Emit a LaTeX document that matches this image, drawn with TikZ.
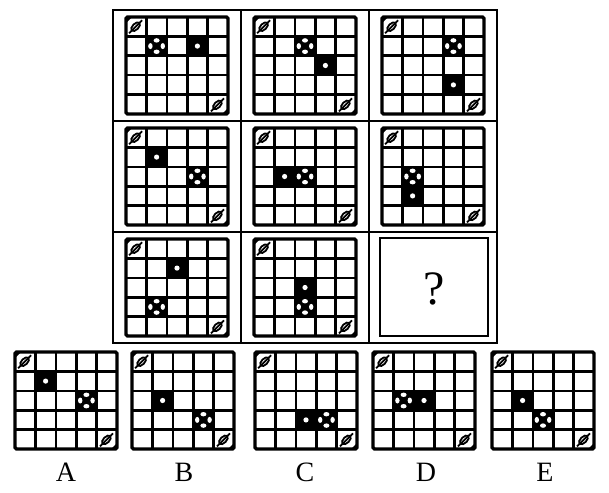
\documentclass[tikz,border=0pt]{standalone}
\usepackage{fontspec}
\setmainfont{Liberation Serif}
\newcommand\cellW{20.4}
\newcommand\cellH{19.4}
\tikzset{
  gridline/.style={line width=2.6pt},
  gridborder/.style={line width=3.4pt, rounded corners=1.5pt},
  framebox/.style={line width=2.4pt},
  markline/.style={line width=1.8pt},
  lbl/.style={font=\fontsize{28}{32}\selectfont, inner sep=0pt},
}
% corner mark centred at (#1,#2)
\newcommand\cornermark[2]{%
  \begin{scope}[shift={(#1,#2)}]
    \draw[markline, fill=white, rotate=45] (0,0) ellipse [x radius=5.5pt, y radius=3pt];
    \draw[markline] (-6.5,6.5) -- (6.5,-6.5);
  \end{scope}%
}
% grid at (#1,#2), black cell row #3 col #4, cross cell row #5 col #6
\newcommand\pgrid[6]{%
  \begin{scope}[shift={(#1,#2)}]
    % black cell with white dot
    \fill ({(#4-1)*\cellW},{(#3-1)*\cellH}) rectangle +(\cellW,\cellH);
    \fill[white] ({(#4-0.5)*\cellW},{(#3-0.5)*\cellH}) circle[radius=2.6pt];
    % cross cell
    \fill ({(#6-1)*\cellW},{(#5-1)*\cellH}) rectangle +(\cellW,\cellH);
    \fill[white] ({(#6-0.5)*\cellW},{(#5-1)*\cellH+4}) ellipse[x radius=3pt, y radius=2.2pt];
    \fill[white] ({(#6-0.5)*\cellW},{#5*\cellH-4}) ellipse[x radius=3pt, y radius=2.2pt];
    \fill[white] ({(#6-1)*\cellW+4},{(#5-0.5)*\cellH}) ellipse[x radius=2.2pt, y radius=3pt];
    \fill[white] ({#6*\cellW-4},{(#5-0.5)*\cellH}) ellipse[x radius=2.2pt, y radius=3pt];
    % grid lines
    \foreach \i in {1,2,3,4} {
      \draw[gridline] ({\i*\cellW},0) -- ({\i*\cellW},{5*\cellH});
      \draw[gridline] (0,{\i*\cellH}) -- ({5*\cellW},{\i*\cellH});
    }
    % corner marks
    \fill (0,0) -- (6,0) -- (0,6) -- cycle;
    \fill ({5*\cellW},{5*\cellH}) -- ({5*\cellW-6},{5*\cellH}) -- ({5*\cellW},{5*\cellH-6}) -- cycle;
    \cornermark{0.47*\cellW}{0.5*\cellH}
    \cornermark{4.48*\cellW}{4.53*\cellH}
    \draw[gridborder] (0,0) rectangle ({5*\cellW},{5*\cellH});
  \end{scope}%
}
\begin{document}
\begin{tikzpicture}[x=1pt,y=-1pt]
\useasboundingbox[fill=white] (0,0) rectangle (609,492);
% main frame
\draw[framebox] (113,10) rectangle (497,343);
\draw[framebox] (241,10) -- (241,343);
\draw[framebox] (369,10) -- (369,343);
\draw[framebox] (113,121) -- (497,121);
\draw[framebox] (113,232) -- (497,232);
% row 1
\pgrid{126}{17}{2}{4}{2}{2}
\pgrid{254}{17}{3}{4}{2}{3}
\pgrid{382}{17}{4}{4}{2}{4}
% row 2
\pgrid{126}{128}{2}{2}{3}{4}
\pgrid{254}{128}{3}{2}{3}{3}
\pgrid{382}{128}{4}{2}{3}{2}
% row 3
\pgrid{126}{239}{2}{3}{4}{2}
\pgrid{254}{239}{3}{3}{4}{3}
\draw[line width=2.4pt] (380,238) rectangle (488,336);
\node[font=\fontsize{48}{54}\selectfont, inner sep=0pt] (q) at (434,289) {?};
% options
\pgrid{15}{352}{2}{2}{3}{4}
\pgrid{132}{352}{3}{2}{4}{4}
\pgrid{255}{352}{4}{3}{4}{4}
\pgrid{373}{352}{3}{3}{3}{2}
\pgrid{492}{352}{3}{2}{4}{3}
\node[lbl] (la) at (66,472) {A};
\node[lbl] (lb) at (184,472) {B};
\node[lbl] (lc) at (305,472) {C};
\node[lbl] (ld) at (426,472) {D};
\node[lbl] (le) at (545,472) {E};
\end{tikzpicture}
\end{document}
